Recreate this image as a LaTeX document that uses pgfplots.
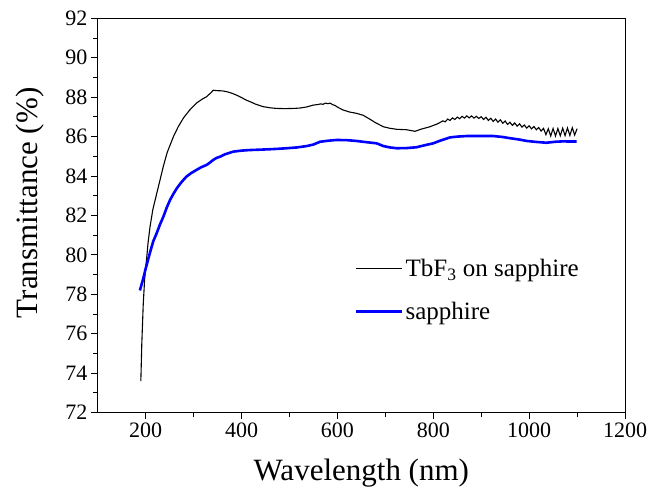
\documentclass[border=0pt]{standalone}
\usepackage{fontspec}
\setmainfont{Liberation Serif}
\usepackage{pgfplots}
\pgfplotsset{compat=1.18}
\begin{document}
\begin{tikzpicture}
\useasboundingbox (-97.7bp,-86.3bp) rectangle (553.3bp,412.7bp);
\begin{axis}[
  scale only axis, width=527.3bp, height=394.4bp,
  at={(0,0)}, anchor=south west,
  xmin=100, xmax=1200, ymin=72, ymax=92,
  xtick={200,400,...,1200}, ytick={72,74,...,92},
  minor x tick num=1, minor y tick num=1,
  tick pos=left, tick align=outside,
  major tick length=6.7bp, minor tick length=4.3bp,
  axis line style={line width=1bp},
  every tick/.style={line width=1bp, black},
  /pgf/number format/assume math mode=true,
  /pgf/number format/1000 sep={},
  ticklabel style={font=\fontsize{22bp}{26bp}\selectfont},
  xlabel={Wavelength (nm)}, ylabel={Transmittance (\%)},
  label style={font=\fontsize{31bp}{36bp}\selectfont},
  xlabel style={at={(axis description cs:0.5,-0.1729)}, anchor=base},
  ylabel style={at={(axis description cs:-0.1151,0.532)}, anchor=base},
  legend style={at={(axis description cs:0.482,0.40)}, anchor=north west, draw=none, fill=none,
    font=\fontsize{25bp}{30bp}\selectfont, row sep=20bp, cells={anchor=west}},
  legend image code/.code={\draw[#1] (0bp,0bp) -- (46bp,0bp);},
]
\addplot[black, line width=1.1bp] coordinates {
(190,73.6) (192,75.5) (195,77.5) (198,78.8) (202,79.8) (205,80.6) (209,81.4) (215,82.3)
(223,83.1) (230,83.8) (237,84.5) (245,85.2) (258,86.0) (268,86.5) (279,86.95) (292,87.35)
(306,87.7) (318,87.9) (327,88.02) (335,88.2) (341,88.35) (350,88.33) (360,88.32) (369,88.28)
(380,88.2) (390,88.1) (400,87.98) (410,87.85) (418,87.77) (430,87.64) (445,87.52) (460,87.46)
(473,87.43) (490,87.42) (510,87.43) (522,87.45) (535,87.5) (550,87.6) (560,87.63) (565,87.66)
(570,87.64) (575,87.7) (580,87.67) (585,87.7) (590,87.62) (595,87.58) (600,87.5) (612,87.35)
(625,87.25) (640,87.18) (654,87.08) (668,86.88) (680,86.7) (696,86.5) (710,86.42) (724,86.37)
(744,86.35) (762,86.27) (775,86.38) (793,86.5) (810,86.66)
(820,86.80) (825,86.75) (830,86.89) (835,86.82) (840,86.95) (845,86.87) (850,86.99) (855,86.91)
(860,87.03) (865,86.94) (870,87.05) (875,86.95) (880,87.05) (885,86.94) (890,87.03) (895,86.92)
(900,87.01) (905,86.87) (910,86.98) (915,86.82) (920,86.93) (925,86.77) (930,86.89) (935,86.73)
(940,86.85) (945,86.68) (950,86.79) (955,86.62) (960,86.73) (965,86.57) (970,86.69) (975,86.53)
(980,86.65) (985,86.48) (990,86.59) (995,86.43) (1000,86.55) (1005,86.39) (1010,86.51) (1015,86.35)
(1020,86.46) (1025,86.28) (1030,86.42) (1035,86.10) (1040,86.40) (1045,86.03) (1050,86.41) (1055,86.03)
(1060,86.41) (1065,86.04) (1070,86.43) (1075,86.05) (1080,86.44) (1085,86.06) (1090,86.45) (1095,86.08)
(1100,86.40)
};
\addlegendentry{TbF\textsubscript{3} on sapphire}
\addplot[blue, line width=2.6bp] coordinates {
(188,78.2) (195,78.8) (200,79.3) (205,79.75) (210,80.2) (216,80.7) (223,81.1) (230,81.55)
(237,81.94) (244,82.4) (251,82.79) (258,83.1) (265,83.38) (275,83.7) (285,83.97) (295,84.15)
(306,84.31) (316,84.45) (327,84.56) (335,84.7) (341,84.82) (348,84.92) (355,84.98) (365,85.1)
(383,85.24) (400,85.29) (418,85.32) (440,85.34) (459,85.36) (475,85.38) (494,85.41) (515,85.45)
(536,85.52) (550,85.6) (564,85.74) (580,85.79) (598,85.83) (620,85.82) (640,85.78) (660,85.72)
(682,85.66) (696,85.52) (710,85.45) (724,85.41) (745,85.42) (765,85.46) (780,85.55) (800,85.66)
(815,85.8) (835,85.96) (850,86.0) (870,86.03) (900,86.03) (925,86.03) (945,85.98) (960,85.92)
(980,85.85) (995,85.78) (1015,85.73) (1036,85.69) (1055,85.74) (1071,85.76) (1085,85.75) (1099,85.75)
};
\addlegendentry{sapphire}
\end{axis}
\end{tikzpicture}
\end{document}
